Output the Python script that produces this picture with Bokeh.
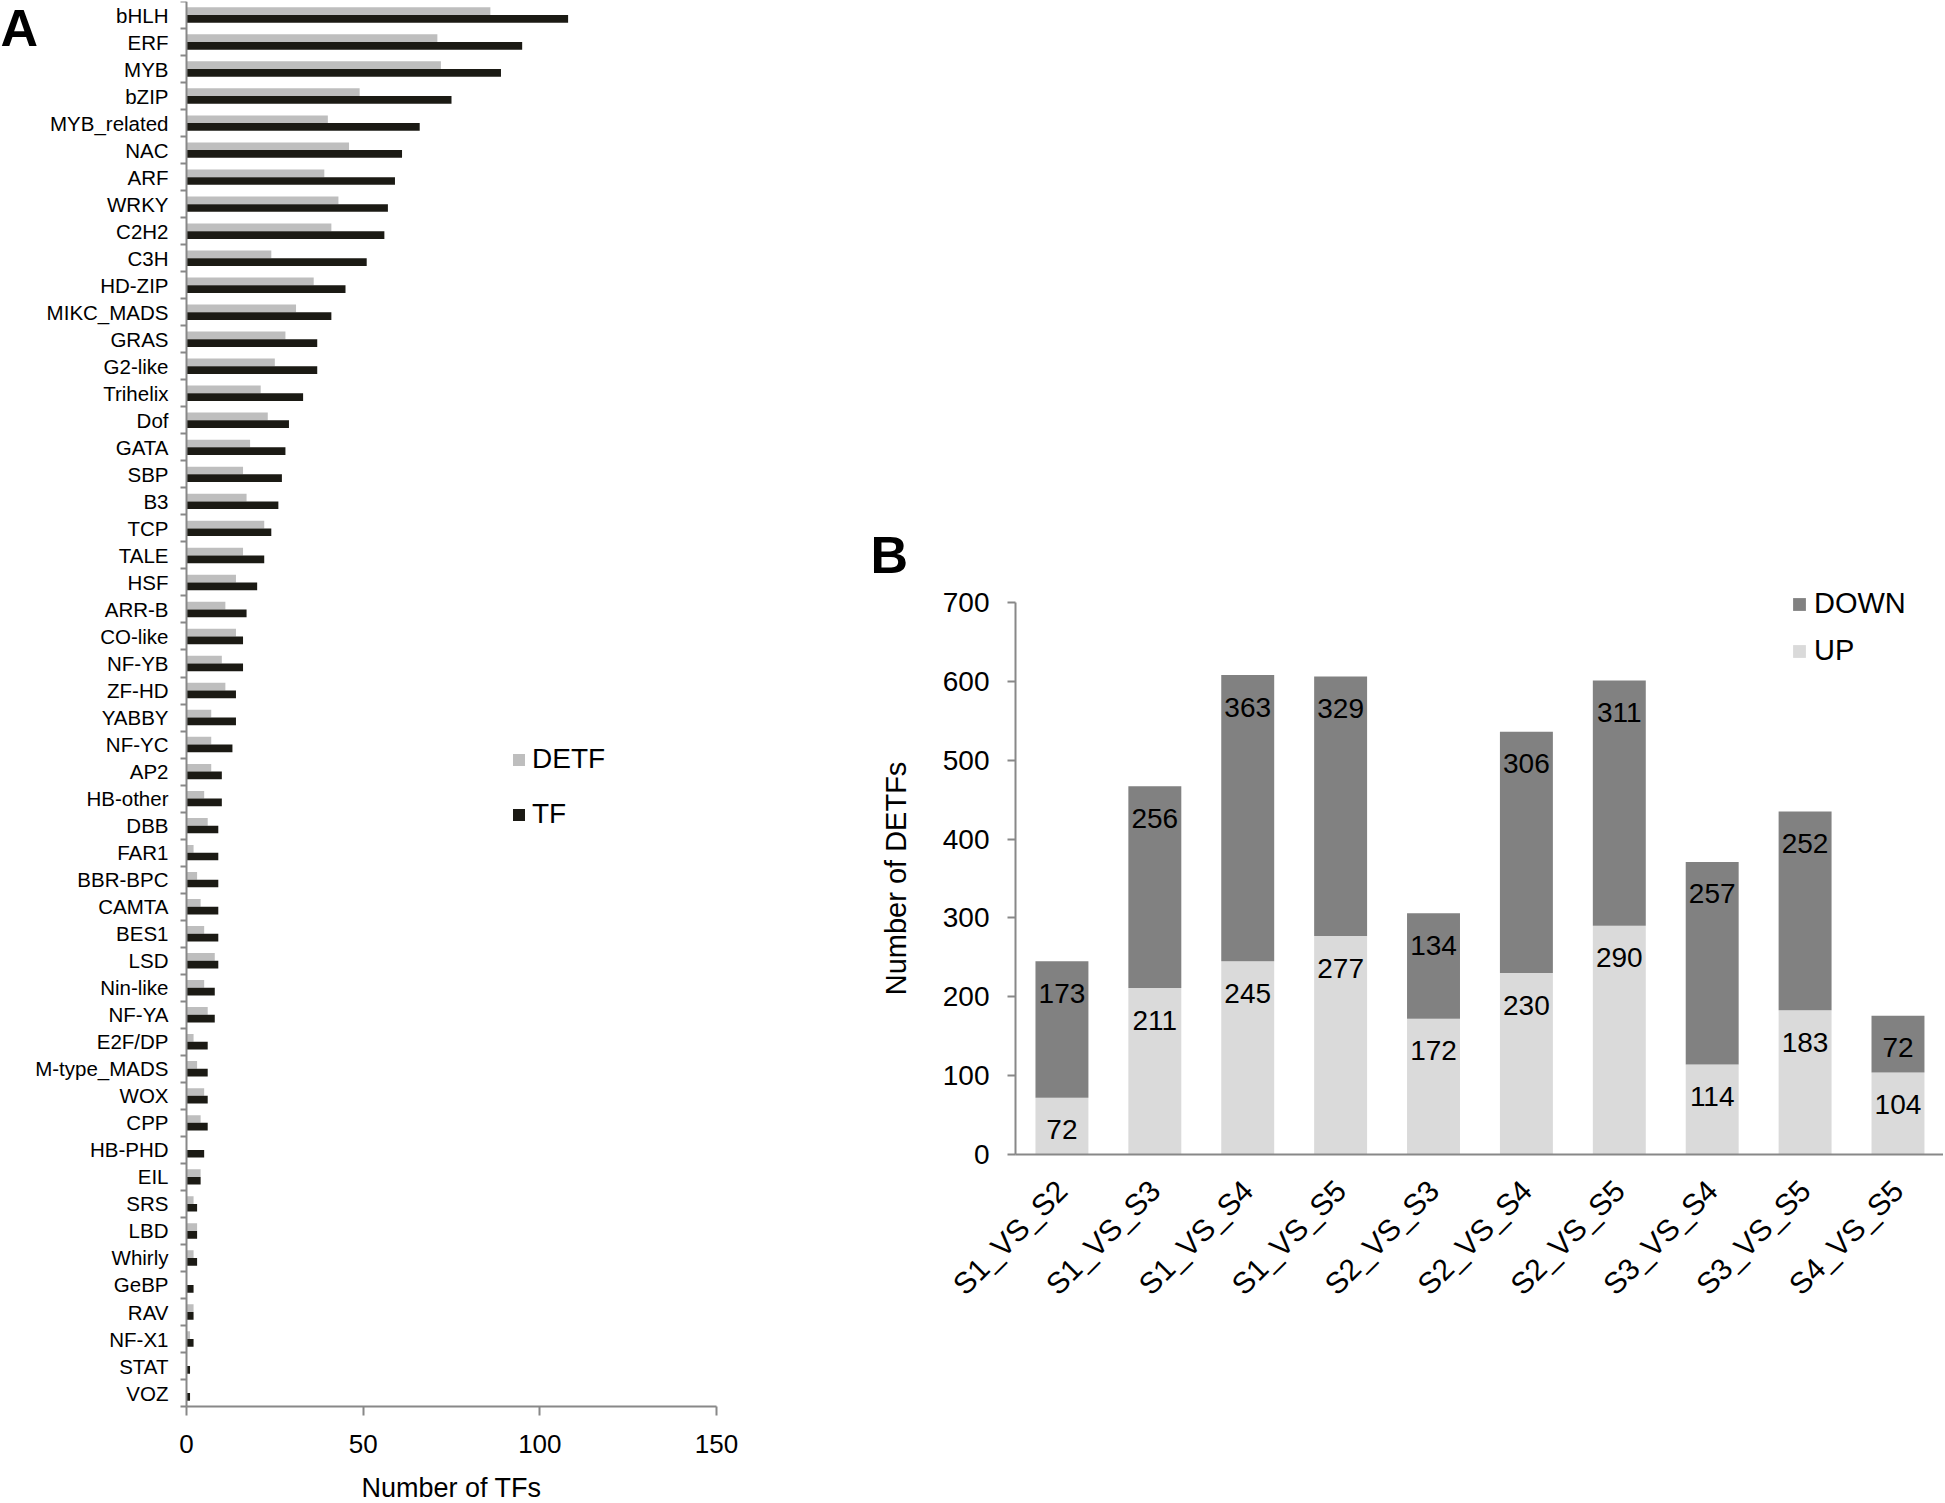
import math
from bokeh.plotting import figure
from bokeh.models import (ColumnDataSource, FixedTicker, Legend, LegendItem, Label, Range1d)
from bokeh.layouts import row
from bokeh.transform import dodge, stack
from bokeh.embed import file_html
from bokeh.resources import INLINE
from bokeh.core.properties import value

# ---------------- data: panel A ----------------
families = ["bHLH", "ERF", "MYB", "bZIP", "MYB_related", "NAC", "ARF", "WRKY", "C2H2",
            "C3H", "HD-ZIP", "MIKC_MADS", "GRAS", "G2-like", "Trihelix", "Dof", "GATA",
            "SBP", "B3", "TCP", "TALE", "HSF", "ARR-B", "CO-like", "NF-YB", "ZF-HD",
            "YABBY", "NF-YC", "AP2", "HB-other", "DBB", "FAR1", "BBR-BPC", "CAMTA",
            "BES1", "LSD", "Nin-like", "NF-YA", "E2F/DP", "M-type_MADS", "WOX", "CPP",
            "HB-PHD", "EIL", "SRS", "LBD", "Whirly", "GeBP", "RAV", "NF-X1", "STAT", "VOZ"]
detf = [86, 71, 72, 49, 40, 46, 39, 43, 41, 24, 36, 31, 28, 25, 21, 23, 18, 16, 17, 22,
        16, 14, 11, 14, 10, 11, 7, 7, 7, 5, 6, 2, 3, 4, 5, 8, 5, 6, 2, 3, 5, 4, 0, 4, 2, 3,
        2, 0, 2, 1, 0, 0]
tf = [108, 95, 89, 75, 66, 61, 59, 57, 56, 51, 45, 41, 37, 37, 33, 29, 28, 27, 26, 24,
      22, 20, 17, 16, 16, 14, 14, 13, 10, 10, 9, 9, 9, 9, 9, 9, 8, 8, 6, 6, 6, 6, 5, 4, 3,
      3, 3, 2, 2, 2, 1, 1]
tf_ticks = [0, 50, 100, 150]

# ---------------- data: panel B ----------------
comparisons = ["S1_VS_S2", "S1_VS_S3", "S1_VS_S4", "S1_VS_S5", "S2_VS_S3",
               "S2_VS_S4", "S2_VS_S5", "S3_VS_S4", "S3_VS_S5", "S4_VS_S5"]
up = [72, 211, 245, 277, 172, 230, 290, 114, 183, 104]
down = [173, 256, 363, 329, 134, 306, 311, 257, 252, 72]
detf_ticks = [0, 100, 200, 300, 400, 500, 600, 700]

FONT = "Liberation Sans"
AX = "#888888"
C_DETF = "#bebebe"
C_TF = "#1b1a14"
C_DOWN = "#818181"
C_UP = "#dadada"

TOP, FH = 1, 1501

# ================= Panel A =================
n = len(families)
pos = [2 * (n - 1 - i) + 1 for i in range(n)]   # category centres (2 units per category)
src_a = ColumnDataSource(dict(family=families, pos=pos, detf=detf, tf=tf))

pa = figure(frame_width=860, frame_height=FH,
            x_range=Range1d(-52.64, 190.75), y_range=Range1d(-7.10, 2 * n),
            output_backend="svg", toolbar_location=None,
            min_border_left=0, min_border_right=0, min_border_top=TOP,
            min_border_bottom=0)
pa.outline_line_color = None
pa.grid.visible = False

r_detf = pa.hbar(y=dodge("pos", 0.285, range=pa.y_range), right="detf", left=0,
                 height=0.57, source=src_a, fill_color=C_DETF, line_color=None)
r_tf = pa.hbar(y=dodge("pos", -0.285, range=pa.y_range), right="tf", left=0,
               height=0.57, source=src_a, fill_color=C_TF, line_color=None)

ya = pa.yaxis[0]
ya.fixed_location = 0
ya.bounds = (0, 2 * n)
ya.ticker = FixedTicker(ticks=pos, minor_ticks=list(range(0, 2 * n + 1, 2)))
ya.major_label_overrides = {p: f for p, f in zip(pos, families)}
ya.major_tick_out = 0
ya.major_tick_in = 0
ya.minor_tick_out = 6
ya.minor_tick_in = 0
ya.minor_tick_line_color = AX
ya.minor_tick_line_width = 2
ya.axis_line_color = AX
ya.axis_line_width = 2
ya.major_label_standoff = 12
ya.major_label_text_font = FONT
ya.major_label_text_font_size = "20.5px"
ya.major_label_text_color = "black"

xa = pa.xaxis[0]
xa.fixed_location = 0
xa.bounds = (0, 150)
xa.ticker = FixedTicker(ticks=tf_ticks)
xa.major_tick_out = 9
xa.major_tick_in = 0
xa.major_tick_line_color = AX
xa.major_tick_line_width = 2
xa.minor_tick_line_color = None
xa.axis_line_color = AX
xa.axis_line_width = 2
xa.major_label_standoff = 19
xa.major_label_text_font = FONT
xa.major_label_text_font_size = "26px"
xa.major_label_text_color = "black"
xa.axis_label = "Number of TFs"
xa.axis_label_text_font = FONT
xa.axis_label_text_font_size = "27px"
xa.axis_label_text_font_style = "normal"
xa.axis_label_text_color = "black"
xa.axis_label_standoff = 17

leg_a = Legend(items=[LegendItem(label="DETF", renderers=[r_detf]),
                      LegendItem(label="TF", renderers=[r_tf])],
               location=(511, 672), orientation="vertical",
               glyph_width=15, glyph_height=15, label_standoff=6, spacing=23,
               padding=0, margin=0, border_line_color=None, background_fill_alpha=0,
               label_text_font=FONT, label_text_font_size="28px", label_text_color="black")
pa.add_layout(leg_a)

pa.add_layout(Label(x=0, y=FH - 26, x_units="screen", y_units="screen", text="A",
                    text_font=FONT, text_font_size="52px", text_font_style="bold",
                    text_baseline="alphabetic", text_align="left", text_color="black"))

# ================= Panel B =================
xpos = [2 * i + 1 for i in range(len(comparisons))]   # category centres (2 units each)
src_b = ColumnDataSource(dict(xpos=xpos, comp=comparisons, up=up, down=down,
                              up_txt=[str(v) for v in up],
                              down_txt=[str(v) for v in down]))

pb = figure(frame_width=1083, frame_height=FH,
            x_range=Range1d(-3.337, 19.98), y_range=Range1d(-441.3, 1462.1),
            output_backend="svg", toolbar_location=None,
            min_border_left=0, min_border_right=0, min_border_top=TOP,
            min_border_bottom=0)
pb.outline_line_color = None
pb.grid.visible = False

rs = pb.vbar_stack(["up", "down"], x="xpos", width=1.14, source=src_b,
                   fill_color=[C_UP, C_DOWN], line_color=None)

pb.text(x="xpos", y=stack("up"), text="up_txt", source=src_b,
        text_align="center", text_baseline="middle", y_offset=32,
        text_font=value(FONT), text_font_size="28px", text_color="black")
pb.text(x="xpos", y=stack("up", "down"), text="down_txt", source=src_b,
        text_align="center", text_baseline="middle", y_offset=32,
        text_font=value(FONT), text_font_size="28px", text_color="black")

yb = pb.yaxis[0]
yb.fixed_location = 0
yb.bounds = (0, 700)
yb.ticker = FixedTicker(ticks=detf_ticks)
yb.major_tick_out = 8
yb.major_tick_in = 0
yb.major_tick_line_color = AX
yb.major_tick_line_width = 2
yb.minor_tick_line_color = None
yb.axis_line_color = AX
yb.axis_line_width = 2
yb.major_label_standoff = 18
yb.major_label_text_font = FONT
yb.major_label_text_font_size = "28px"
yb.major_label_text_color = "black"
yb.axis_label = "Number of DETFs"
yb.axis_label_text_font = FONT
yb.axis_label_text_font_size = "29px"
yb.axis_label_text_font_style = "normal"
yb.axis_label_text_color = "black"
yb.axis_label_standoff = 28

xb = pb.xaxis[0]
xb.fixed_location = 0
xb.bounds = (0, 2 * len(comparisons))
xb.ticker = FixedTicker(ticks=xpos)
xb.major_label_overrides = {p: c for p, c in zip(xpos, comparisons)}
xb.major_tick_out = 0
xb.major_tick_in = 0
xb.major_tick_line_color = None
xb.minor_tick_line_color = None
xb.axis_line_color = AX
xb.axis_line_width = 2
xb.major_label_orientation = math.pi / 4
xb.major_label_standoff = 31
xb.major_label_text_font = FONT
xb.major_label_text_font_size = "30px"
xb.major_label_text_color = "black"

leg_b = Legend(items=[LegendItem(label="DOWN", renderers=[rs[1]]),
                      LegendItem(label="UP", renderers=[rs[0]])],
               location=(931, 835), orientation="vertical",
               glyph_width=16, glyph_height=16, label_standoff=7, spacing=14,
               padding=0, margin=0, border_line_color=None, background_fill_alpha=0,
               label_text_font=FONT, label_text_font_size="29px", label_text_color="black")
pb.add_layout(leg_b)

pb.add_layout(Label(x=10, y=FH - 553, x_units="screen", y_units="screen", text="B",
                    text_font=FONT, text_font_size="52px", text_font_style="bold",
                    text_baseline="alphabetic", text_align="left", text_color="black"))

layout = row(pa, pb)
open("out.html", "w").write(file_html(layout, INLINE))
